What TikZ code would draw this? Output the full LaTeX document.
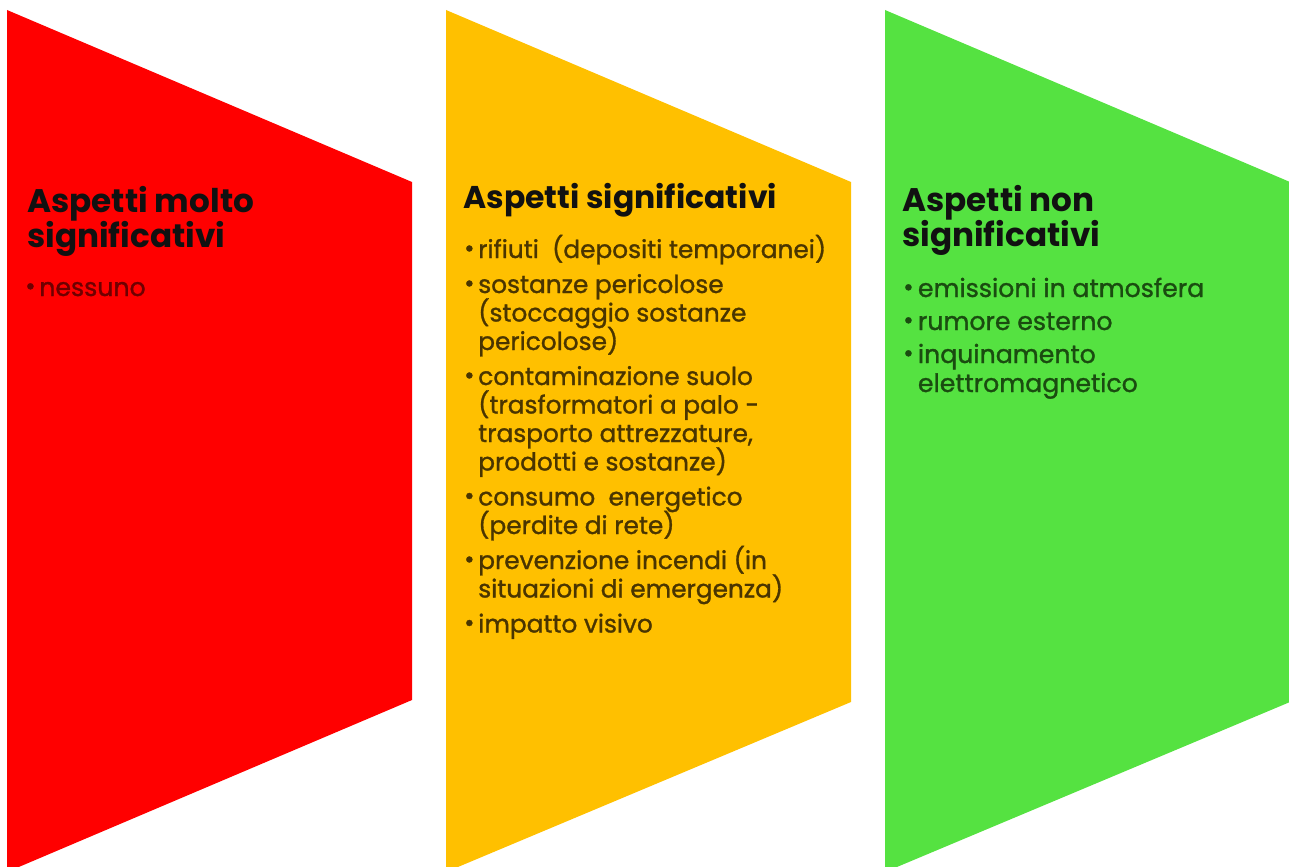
\documentclass[tikz,border=0pt]{standalone}
\usepackage{fontspec}
\setmainfont{Poppins}
\definecolor{fillR}{HTML}{FF0000}
\definecolor{fillY}{HTML}{FFC000}
\definecolor{fillG}{HTML}{55E241}
\definecolor{txtR}{HTML}{6E0000}
\definecolor{txtY}{HTML}{4A3500}
\definecolor{txtG}{HTML}{1A4C10}
\definecolor{txtH}{HTML}{111111}
\newlength\bind
\newlength\itemgap
\newcommand\bfirst[1]{\noindent\hbox to\bind{\raisebox{0.05em}{\textbullet}\hss}#1}
\newcommand\bitem[1]{\par\vskip\itemgap\noindent\hbox to\bind{\raisebox{0.05em}{\textbullet}\hss}#1}
\newcommand\bcont[1]{\par\noindent\hskip\bind #1}
\newcommand\blist[3]{\vtop{\hsize=480pt\parindent=0pt\parskip=0pt\lineskiplimit=-100pt\baselineskip=#1\itemgap=#2\relax #3\par}}
\newcommand\hlines[2]{\vtop{\lineskiplimit=-100pt\baselineskip=#1\relax #2}}
\tikzset{
  x=0.75pt, y=-0.75pt,
  headR/.style={anchor=base west, inner sep=0pt, text=txtH, font=\bfseries\fontsize{24.5}{26}\selectfont},
  headY/.style={anchor=base west, inner sep=0pt, text=txtH, font=\bfseries\fontsize{23.6}{24}\selectfont},
  bodyL/.style={anchor=base west, inner sep=0pt, font=\fontsize{18.9}{21}\selectfont\addfontfeature{FakeBold=1.2}},
  bodyS/.style={anchor=base west, inner sep=0pt, font=\fontsize{18.6}{21}\selectfont\addfontfeature{FakeBold=1.2}},
}
\begin{document}
\begin{tikzpicture}
\useasboundingbox (0,0) rectangle (1289,867);
\begin{scope}
\clip (0,0) rectangle (1289,867);
\fill[fillR] (7,10) -- (412,182) -- (412,700) -- (7,872) -- cycle;
\fill[fillY] (446,10) -- (851,182) -- (851,702) -- (446,872) -- cycle;
\fill[fillG] (885,10) -- (1290,182) -- (1290,702) -- (885,872) -- cycle;
\end{scope}
% red panel
\node[headR] (hr) at (27,212) {\hlines{26.25pt}{\hbox{Aspetti molto}\hbox{significativi}}};
\node[bodyL, text=txtR] (br) at (25,296) {\setlength\bind{10.5pt}\blist{21.75pt}{3pt}{\bfirst{nessuno}}};
% yellow panel
\node[headY] (hy) at (463,208) {Aspetti significativi};
\node[bodyS, text=txtY] (by) at (464,258) {\setlength\bind{10.5pt}\blist{21.375pt}{4.875pt}{%
\bfirst{rifiuti\ \ (depositi temporanei)}%
\bitem{sostanze pericolose}%
\bcont{(stoccaggio sostanze}%
\bcont{pericolose)}%
\bitem{contaminazione suolo}%
\bcont{(trasformatori a palo -}%
\bcont{trasporto attrezzature,}%
\bcont{prodotti e sostanze)}%
\bitem{consumo\ \ energetico}%
\bcont{(perdite di rete)}%
\bitem{prevenzione incendi (in}%
\bcont{situazioni di emergenza)}%
\bitem{impatto visivo}}};
% green panel
\node[headR] (hg) at (902,211) {\hlines{26.25pt}{\hbox{Aspetti non}\hbox{significativi}}};
\node[bodyL, text=txtG] (bg) at (903,297) {\setlength\bind{11pt}\blist{21.75pt}{3pt}{%
\bfirst{emissioni in atmosfera}%
\bitem{rumore esterno}%
\bitem{inquinamento}%
\bcont{elettromagnetico}}};
\end{tikzpicture}
\end{document}
